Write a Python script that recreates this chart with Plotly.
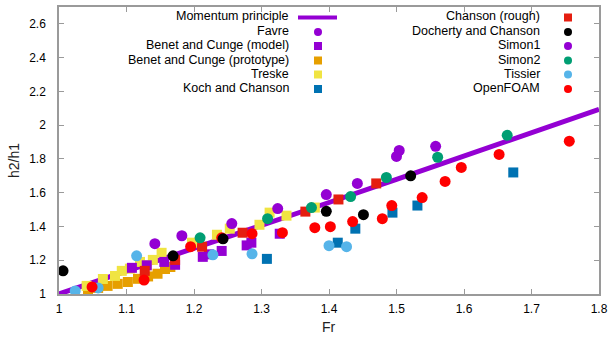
import plotly.graph_objects as go

# ---------------- data ----------------
momentum_fr = [1.0, 1.1, 1.2, 1.3, 1.4, 1.5, 1.6, 1.7, 1.8]
momentum_h = [1.0, 1.134, 1.269, 1.405, 1.542, 1.679, 1.817, 1.956, 2.094]

favre_fr = [1.256, 1.396, 1.500]
favre_h = [1.417, 1.589, 1.815]

benet_model_fr = [1.108, 1.130, 1.156, 1.172, 1.213, 1.222, 1.241, 1.278, 1.285, 1.327]
benet_model_h = [1.155, 1.170, 1.190, 1.173, 1.220, 1.235, 1.255, 1.288, 1.304, 1.357]

benet_proto_fr = [1.043, 1.058, 1.072, 1.087, 1.102, 1.117, 1.132, 1.146, 1.157, 1.165]
benet_proto_h = [1.024, 1.036, 1.048, 1.060, 1.071, 1.090, 1.104, 1.120, 1.148, 1.160]

treske_fr = [1.041, 1.065, 1.083, 1.093, 1.105, 1.120, 1.130, 1.139, 1.152, 1.197,
             1.234, 1.253, 1.297, 1.312, 1.337, 1.379]
treske_h = [1.048, 1.089, 1.107, 1.137, 1.150, 1.190, 1.170, 1.202, 1.244, 1.304,
            1.351, 1.387, 1.410, 1.482, 1.464, 1.512]

koch_fr = [1.308, 1.413, 1.439, 1.494, 1.531, 1.673]
koch_h = [1.208, 1.304, 1.387, 1.482, 1.524, 1.720]

chanson_fr = [1.127, 1.172, 1.212, 1.272, 1.365, 1.414, 1.470]
chanson_h = [1.137, 1.202, 1.280, 1.363, 1.488, 1.560, 1.655]

docherty_fr = [1.006, 1.169, 1.243, 1.396, 1.451, 1.521]
docherty_h = [1.137, 1.226, 1.327, 1.490, 1.470, 1.700]

simon1_fr = [1.142, 1.182, 1.324, 1.442, 1.504, 1.558]
simon1_h = [1.298, 1.345, 1.506, 1.655, 1.850, 1.875]

simon2_fr = [1.209, 1.309, 1.374, 1.432, 1.485, 1.561, 1.664]
simon2_h = [1.333, 1.446, 1.512, 1.577, 1.690, 1.810, 1.940]

tissier_fr = [1.024, 1.058, 1.115, 1.228, 1.286, 1.400, 1.426]
tissier_h = [1.018, 1.036, 1.226, 1.232, 1.238, 1.286, 1.280]

openfoam_fr = [1.049, 1.126, 1.195, 1.241, 1.286, 1.331, 1.379, 1.402, 1.435, 1.479,
               1.493, 1.538, 1.572, 1.596, 1.652, 1.756]
openfoam_h = [1.042, 1.083, 1.280, 1.333, 1.357, 1.363, 1.393, 1.399, 1.429, 1.446,
              1.524, 1.571, 1.667, 1.750, 1.827, 1.905]

x_ticks = [1.0, 1.1, 1.2, 1.3, 1.4, 1.5, 1.6, 1.7, 1.8]
x_tick_text = ["1", "1.1", "1.2", "1.3", "1.4", "1.5", "1.6", "1.7", "1.8"]
y_ticks = [1.0, 1.2, 1.4, 1.6, 1.8, 2.0, 2.2, 2.4, 2.6]
y_tick_text = ["1", "1.2", "1.4", "1.6", "1.8", "2", "2.2", "2.4", "2.6"]

# ---------------- styles ----------------
PURPLE = "#9400d3"
GREEN = "#009e73"
LBLUE = "#56b4e9"
ORANGE = "#e69f00"
YELLOW = "#f0e442"
DBLUE = "#0072b2"
RED = "#e51e10"
BLACK = "#000000"
BRED = "#ff0000"
FONT = "Liberation Sans, Arial"

series = [
    ("Benet and Cunge (prototype)", benet_proto_fr, benet_proto_h, "square", ORANGE, 10),
    ("Treske", treske_fr, treske_h, "square", YELLOW, 10),
    ("Benet and Cunge (model)", benet_model_fr, benet_model_h, "square", PURPLE, 10),
    ("Koch and Chanson", koch_fr, koch_h, "square", DBLUE, 10),
    ("Tissier", tissier_fr, tissier_h, "circle", LBLUE, 11),
    ("Chanson (rough)", chanson_fr, chanson_h, "square", RED, 10),
    ("OpenFOAM", openfoam_fr, openfoam_h, "circle", BRED, 11),
    ("Favre", favre_fr, favre_h, "circle", PURPLE, 11),
    ("Simon1", simon1_fr, simon1_h, "circle", PURPLE, 11),
    ("Simon2", simon2_fr, simon2_h, "circle", GREEN, 11),
    ("Docherty and Chanson", docherty_fr, docherty_h, "circle", BLACK, 11),
]

fig = go.Figure()
fig.add_trace(go.Scatter(x=momentum_fr, y=momentum_h, mode="lines",
                         line=dict(color=PURPLE, width=5), name="Momentum principle",
                         showlegend=False))
for name, xs, ys, sym, col, sz in series:
    fig.add_trace(go.Scatter(x=xs, y=ys, mode="markers", name=name, showlegend=False,
                             marker=dict(symbol=sym, color=col, size=sz,
                                         line=dict(width=0))))

# ---------------- manual legend (text right-aligned, key on the right) ----------------
L, R, T, B = 59, 11, 7, 44
W, H = 610, 338
pw, ph = W - L - R, H - T - B


def px(xp):
    return (xp - L) / pw


def py(yp):
    return (H - B - yp) / ph


rows = [16.5, 31, 45, 59.5, 73.5, 88]
col1 = [("Momentum principle", "line", PURPLE), ("Favre", "circle", PURPLE),
        ("Benet and Cunge (model)", "square", PURPLE),
        ("Benet and Cunge (prototype)", "square", ORANGE),
        ("Treske", "square", YELLOW), ("Koch and Chanson", "square", DBLUE)]
col2 = [("Chanson (rough)", "rsquare", RED), ("Docherty and Chanson", "circle", BLACK),
        ("Simon1", "circle", PURPLE), ("Simon2", "circle", GREEN),
        ("Tissier", "circle", LBLUE), ("OpenFOAM", "circle", BRED)]

annotations = []
shapes = []
for col, text_x, key_x in [(col1, 291, 318), (col2, 542, 568)]:
    for (label, kind, color), ry in zip(col, rows):
        annotations.append(dict(text=label, x=px(text_x), y=py(ry), xref="paper", yref="paper",
                                xanchor="right", yanchor="middle", showarrow=False,
                                font=dict(family=FONT, size=12.5, color="black")))
        if kind == "line":
            shapes.append(dict(type="line", xref="paper", yref="paper",
                               x0=px(298), x1=px(337), y0=py(ry + 1), y1=py(ry + 1),
                               line=dict(color=color, width=4)))
        else:
            r = 4
            shapes.append(dict(type="circle" if kind == "circle" else "rect",
                               xref="paper", yref="paper", xsizemode="pixel", ysizemode="pixel",
                               xanchor=px(key_x), yanchor=py(ry + 1),
                               x0=-r, x1=r, y0=-r, y1=r,
                               fillcolor=color, line=dict(width=0)))

annotations.append(dict(text="h2/h1", x=px(14), y=py(161), xref="paper", yref="paper",
                        textangle=-90, showarrow=False, xanchor="center", yanchor="middle",
                        font=dict(family=FONT, size=14, color="#222")))
annotations.append(dict(text="Fr", x=px(329), y=py(327), xref="paper", yref="paper",
                        showarrow=False, xanchor="center", yanchor="middle",
                        font=dict(family=FONT, size=14, color="#222")))

axis_common = dict(showgrid=False, zeroline=False, showline=True, linecolor="#9a9a9a",
                   linewidth=1.5, mirror="allticks", ticks="inside", ticklen=5,
                   tickcolor="#9a9a9a", tickwidth=1, automargin=False,
                   tickfont=dict(family=FONT, size=12, color="#000"))

fig.update_layout(
    width=W, height=H,
    margin=dict(l=L, r=R, t=T, b=B),
    paper_bgcolor="white", plot_bgcolor="white",
    showlegend=False,
    xaxis=dict(range=[1.0, 1.8], tickvals=x_ticks, ticktext=x_tick_text,
               ticklabelstandoff=3, **axis_common),
    yaxis=dict(range=[1.0, 2.7], tickvals=y_ticks, ticktext=y_tick_text,
               ticklabelstandoff=9, **axis_common),
    annotations=annotations,
    shapes=shapes,
)

fig.write_html("out.html", config={"displayModeBar": False},
               post_script="document.body.style.margin='0px';")
